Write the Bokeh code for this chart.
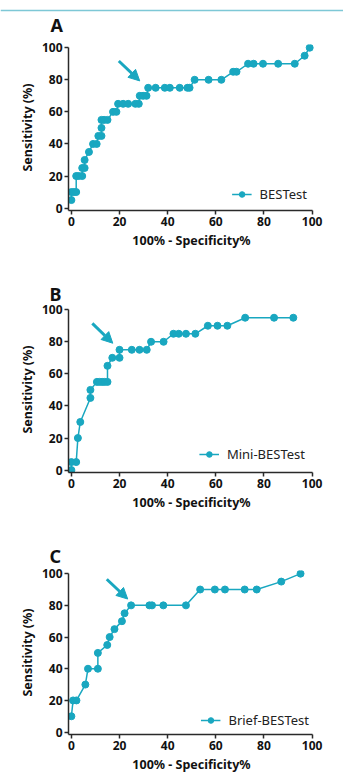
from bokeh.plotting import figure
from bokeh.layouts import column, row
from bokeh.models import Arrow, NormalHead, Legend, LegendItem, Range1d, Label
from bokeh.embed import file_html
from bokeh.resources import INLINE

# ---------------- data ----------------
best_x = [0, 0, 1, 2, 2, 3, 4.5, 4.5, 5.5, 5.5, 7.3, 9, 10.5, 11.2, 12.5, 12.5, 12.5, 13.6, 15,
          17.3, 18.7, 19.4, 21.5, 23.6, 26.6, 28, 28.4, 29.8, 31.2, 31.9, 35, 38.8, 40.9, 45,
          48.2, 49.1, 51.2, 57, 62.3, 67.2, 68.6, 73.4, 75.7, 79.6, 85.9, 92.8, 96.9, 99]
best_y = [5, 10, 10, 10, 20, 20, 20, 25, 25, 30, 35, 40, 40, 45, 45, 50, 55, 55, 55,
          60, 60, 65, 65, 65, 65, 65, 70, 70, 70, 75, 75, 75, 75, 75,
          75, 75, 80, 80, 80, 85, 85, 90, 90, 90, 90, 90, 95, 100]

mini_x = [0, 0, 2, 2.7, 3.7, 7.9, 7.9, 10.6, 11.7, 12.8, 13.8, 15, 15, 17, 20, 20, 25.1, 28.3,
          31.3, 33.1, 38.3, 42.4, 44.6, 47.6, 51.5, 56.7, 60.7, 64.8, 72.2, 84.2, 92.2]
mini_y = [0, 5, 5, 20, 30, 45, 50, 55, 55, 55, 55, 55, 65, 70, 70, 75, 75, 75,
          75, 80, 80, 85, 85, 85, 85, 90, 90, 90, 95, 95, 95]

brief_x = [0, 0.7, 2.1, 5.8, 6.9, 11, 11, 14.9, 15.9, 17.9, 21, 22.1, 24.8, 32.4, 33.5, 38.2,
           47.6, 53.5, 59.6, 63.8, 72, 77, 87.2, 95.2]
brief_y = [10, 20, 20, 30, 40, 40, 50, 55, 60, 65, 70, 75, 80, 80, 80, 80,
           80, 90, 90, 90, 90, 90, 95, 100]

series_names = ["BESTest", "Mini-BESTest", "Brief-BESTest"]
panel_letters = ["A", "B", "C"]
x_ticks = [0, 20, 40, 60, 80, 100]
y_ticks = [0, 20, 40, 60, 80, 100]

# arrows (x_start, y_start, x_end, y_end) in data units
arrows = [(19.7, 91.7, 28.4, 79.3),
          (8.7, 91.5, 17.2, 79.1),
          (14.7, 96.5, 23.4, 84.0)]

TEAL = "#19a7c0"
AXIS = "#2a2a2a"
FONT = "Noto Sans"


def make_panel(xs, ys, name, letter, arrow, height, top, bottom,
               legend_margin, title_offset, title_standoff):
    kw = dict(width=343, height=height, output_backend="svg", toolbar_location=None,
              x_range=Range1d(-1.2, 101), y_range=Range1d(-1.5, 102),
              min_border_top=top, min_border_bottom=bottom,
              min_border_left=68, min_border_right=29)
    if letter is None:
        kw["title"] = None
    p = figure(**kw)
    p.outline_line_color = None
    p.grid.visible = False
    p.background_fill_color = "white"
    p.border_fill_color = "white"

    if letter is not None:
        p.title.text = letter
        p.title.text_font = FONT
        p.title.text_font_style = "bold"
        p.title.text_font_size = "18px"
        p.title.text_color = "#111111"
        p.title.align = "left"
        p.title.offset = title_offset
        p.title.standoff = title_standoff

    ln = p.line(xs, ys, line_color=TEAL, line_width=1.5)
    sc = p.scatter(xs, ys, size=7, fill_color=TEAL, line_color=TEAL)

    for ax in (p.xaxis[0], p.yaxis[0]):
        ax.axis_line_color = AXIS
        ax.axis_line_width = 1.5
        ax.major_tick_line_color = AXIS
        ax.major_tick_line_width = 1.5
        ax.major_tick_in = 0
        ax.major_tick_out = 4
        ax.minor_tick_line_color = None
        ax.major_label_text_font = FONT
        ax.major_label_text_font_style = "bold"
        ax.major_label_text_font_size = "12px"
        ax.major_label_text_color = "#111111"
        ax.major_label_standoff = 2
        ax.axis_label_text_font = FONT
        ax.axis_label_text_font_style = "bold"
        ax.axis_label_text_font_size = "12.5px"
        ax.axis_label_text_color = "#111111"
        ax.axis_label_standoff = 3

    p.xaxis.ticker = x_ticks
    p.yaxis.ticker = y_ticks
    p.xaxis.bounds = (-1.2, 100)
    p.yaxis.bounds = (-1.5, 100)
    p.xaxis.axis_label = "100% - Specificity%"
    p.yaxis.axis_label = "Sensitivity (%)"

    legend = Legend(items=[LegendItem(label=name, renderers=[ln, sc])],
                    location="bottom_right", padding=0, margin=legend_margin, spacing=0,
                    glyph_width=20, glyph_height=14, label_height=14,
                    label_standoff=8, border_line_color=None,
                    background_fill_alpha=0,
                    label_text_font=FONT, label_text_font_size="13px",
                    label_text_color="#222222")
    p.add_layout(legend)

    xs0, ys0, xe, ye = arrow
    p.add_layout(Arrow(x_start=xs0, y_start=ys0, x_end=xe, y_end=ye,
                       line_color=TEAL, line_width=3,
                       end=NormalHead(size=11, fill_color=TEAL, line_color=TEAL)))
    return p


# header strip: thin rule across the page plus the panel letter "A"
strip = figure(width=343, height=36, output_backend="svg", toolbar_location=None,
               title=None, x_axis_location=None, y_axis_location=None,
               x_range=Range1d(0, 343), y_range=Range1d(36, 0), min_border=0)
strip.grid.visible = False
strip.outline_line_color = None
strip.segment(x0=[0], y0=[10], x1=[343], y1=[10], line_color="#7ec8d6", line_width=1.5)
strip.add_layout(Label(x=50, y=24.5, text=panel_letters[0], text_font=FONT,
                       text_font_style="bold", text_font_size="18px",
                       text_color="#111111", text_align="left",
                       text_baseline="alphabetic"))

pA = make_panel(best_x, best_y, series_names[0], None, arrows[0],
                230, 8, 56, 7, 0, 0)
pB = make_panel(mini_x, mini_y, series_names[1], panel_letters[1], arrows[1],
                261, 40, 55, 9, -19, 1)
pC = make_panel(brief_x, brief_y, series_names[2], panel_letters[2], arrows[2],
                248, 43, 39, 5, -19, 5)

layout = column(row(strip), pA, pB, pC, spacing=0)
open("out.html", "w").write(file_html(layout, INLINE))
